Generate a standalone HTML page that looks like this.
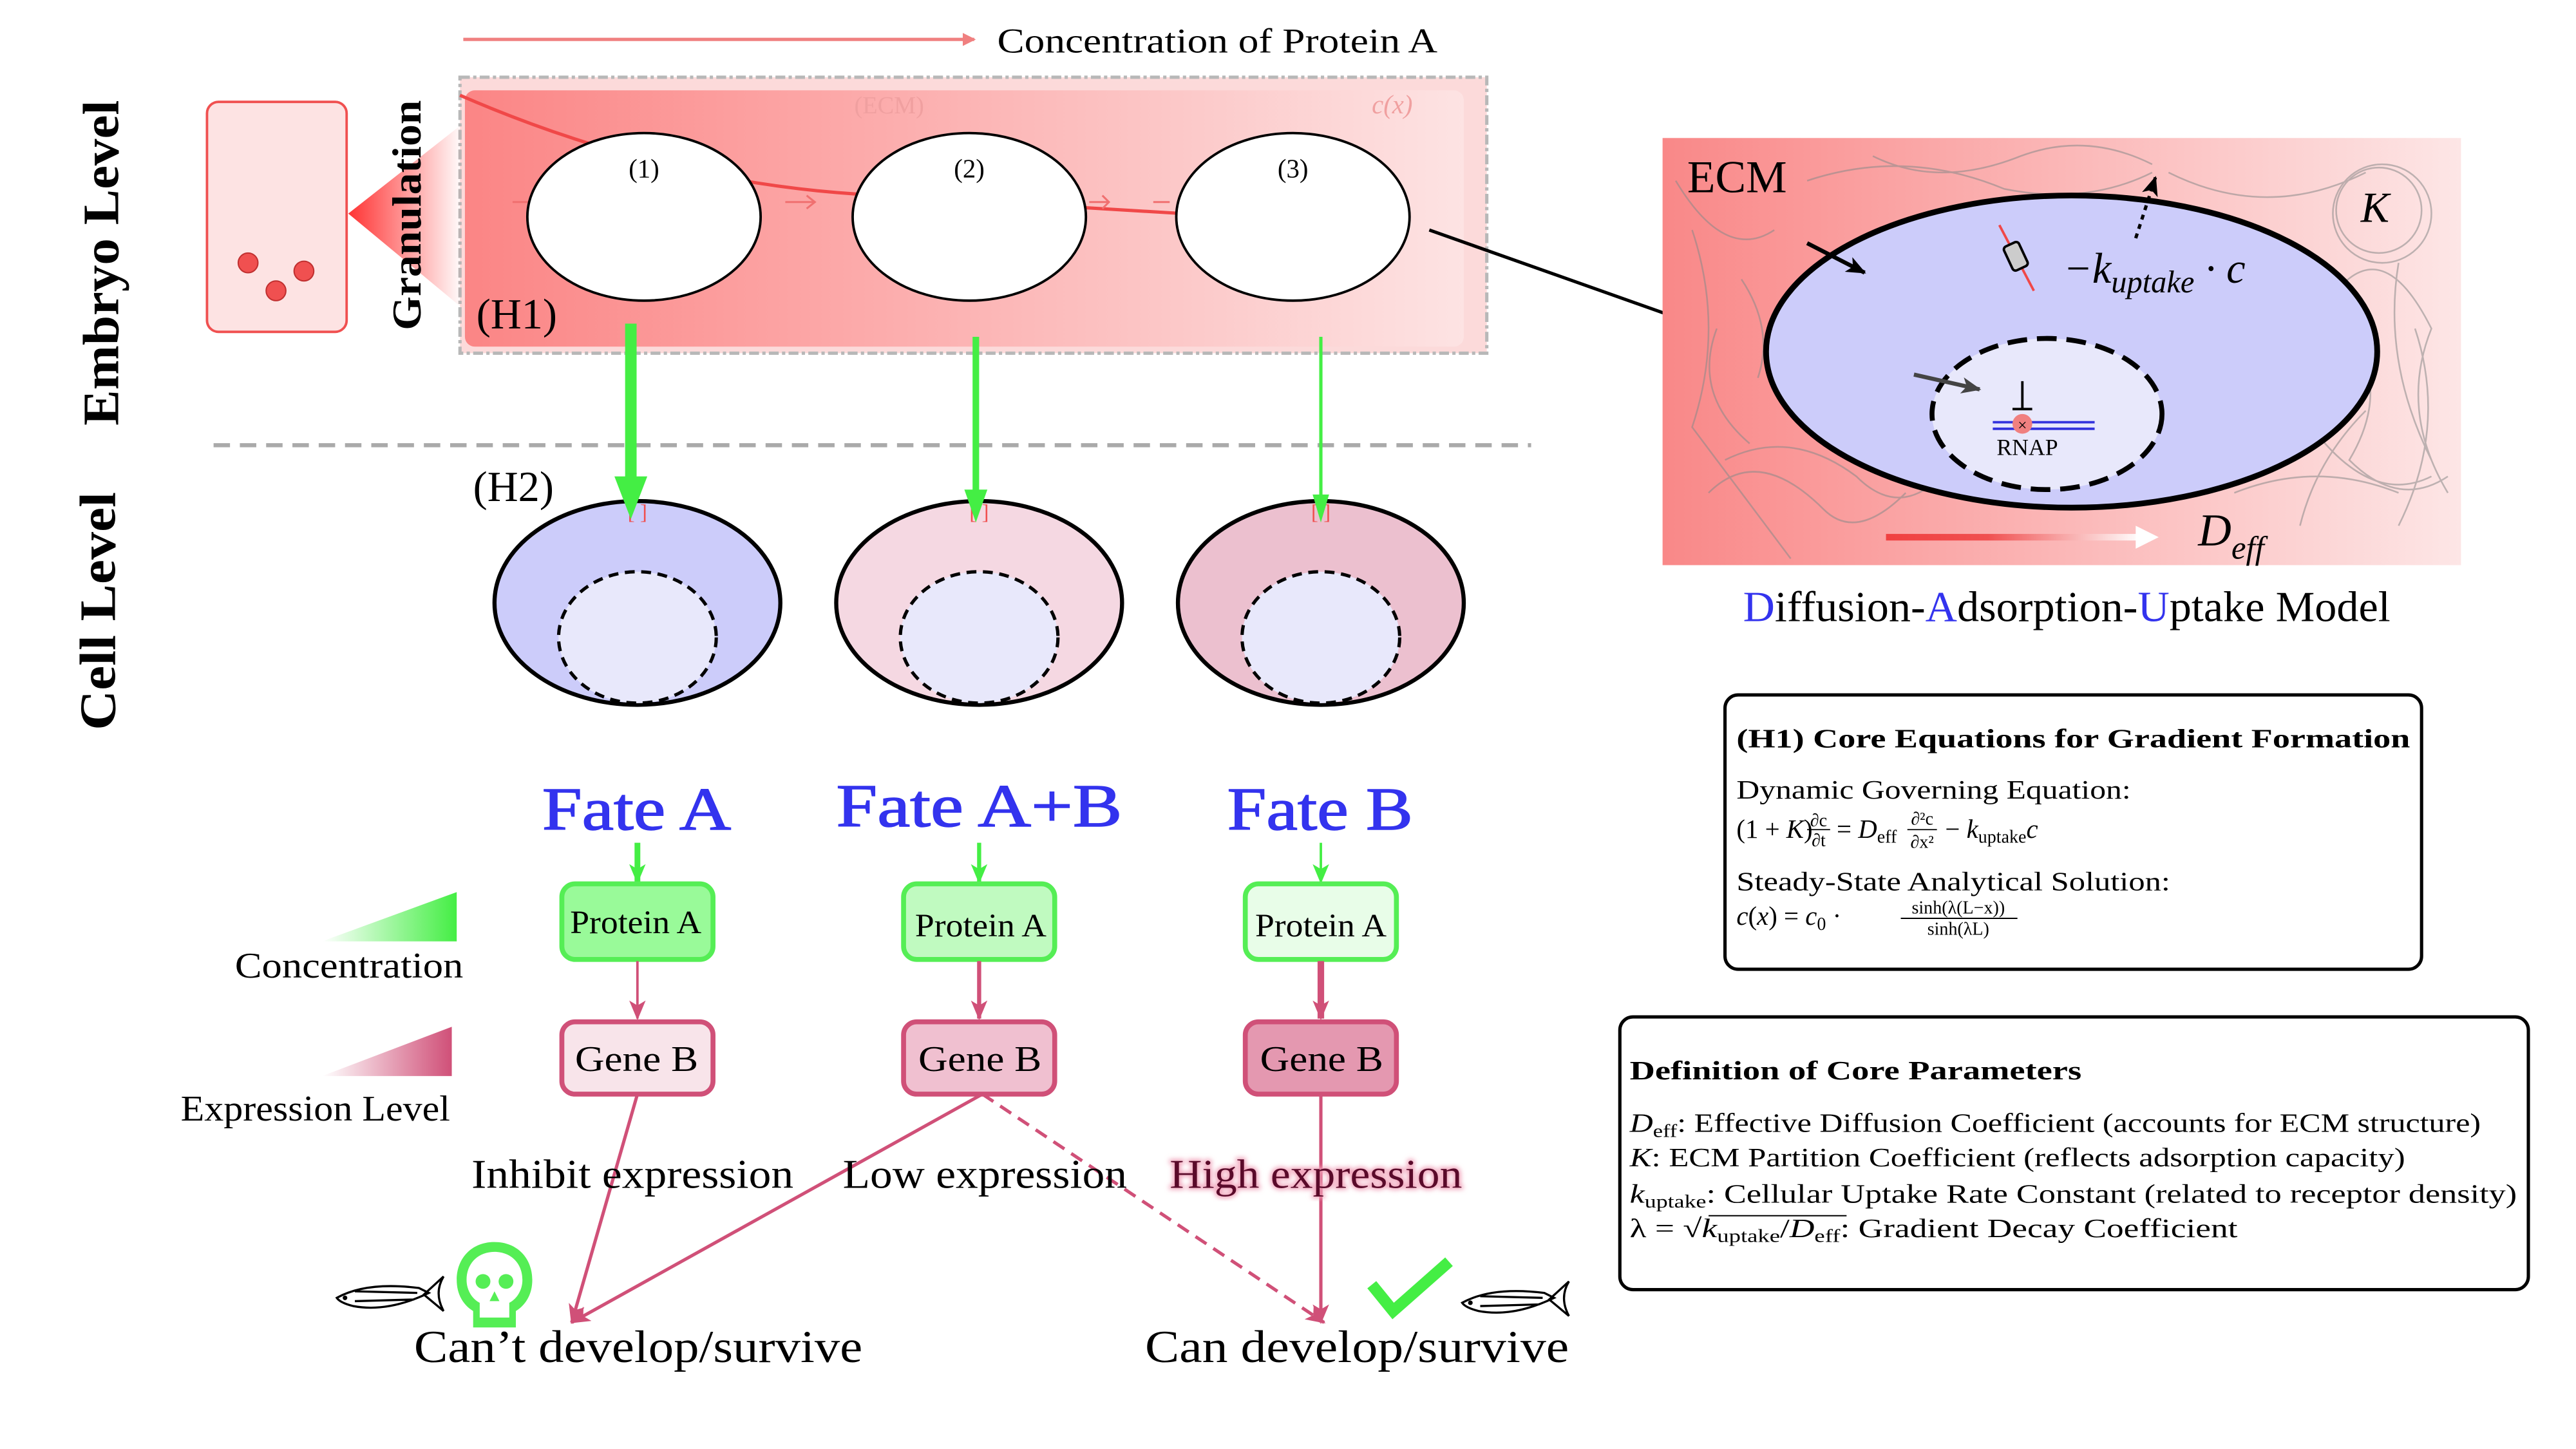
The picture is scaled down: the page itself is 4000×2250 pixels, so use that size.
<!DOCTYPE html>
<html><head><meta charset="utf-8"><style>html,body{margin:0;padding:0;background:#fff;}svg{display:block;}</style></head>
<body>
<svg xmlns="http://www.w3.org/2000/svg" width="4000" height="2250" viewBox="0 0 1568 882" font-family="'Liberation Serif', serif">
<defs>
<linearGradient id="ecm" x1="0" x2="1"><stop offset="0" stop-color="#fb8585"/><stop offset="1" stop-color="#fde3e3"/></linearGradient>
<linearGradient id="ecm2" x1="0" x2="1"><stop offset="0" stop-color="#f98888"/><stop offset="1" stop-color="#fde6e6"/></linearGradient>
<linearGradient id="tri" x1="0" x2="1"><stop offset="0" stop-color="#ff3333"/><stop offset="1" stop-color="#ff3333" stop-opacity="0"/></linearGradient>
<linearGradient id="gtri" x1="0" x2="1"><stop offset="0" stop-color="#fff"/><stop offset="1" stop-color="#44ee44"/></linearGradient>
<linearGradient id="ptri" x1="0" x2="1"><stop offset="0" stop-color="#fff"/><stop offset="1" stop-color="#d05078"/></linearGradient>
<linearGradient id="darr" x1="0" x2="1"><stop offset="0" stop-color="#f04040"/><stop offset="0.4" stop-color="#f05050"/><stop offset="1" stop-color="#ffffff"/></linearGradient>
<marker id="ah" markerWidth="8" markerHeight="8" refX="7" refY="4" orient="auto" markerUnits="userSpaceOnUse"><path d="M0,0 L8,4 L0,8 z" fill="#f08080"/></marker>
<marker id="bk" markerWidth="12" markerHeight="10" refX="11" refY="5" orient="auto" markerUnits="userSpaceOnUse"><path d="M0,0 L12,5 L0,10 L3,5 z" fill="#000"/></marker>
<marker id="dg" markerWidth="12" markerHeight="10" refX="11" refY="5" orient="auto" markerUnits="userSpaceOnUse"><path d="M0,0 L12,5 L0,10 L3,5 z" fill="#444"/></marker>
<marker id="pk" markerWidth="12" markerHeight="10" refX="11" refY="5" orient="auto" markerUnits="userSpaceOnUse"><path d="M0,0 L12,5 L0,10 L3,5 z" fill="#d05078"/></marker>
<marker id="gr" markerWidth="12" markerHeight="10" refX="11" refY="5" orient="auto" markerUnits="userSpaceOnUse"><path d="M0,0 L12,5 L0,10 L3,5 z" fill="#44ee44"/></marker>
<filter id="glow"><feGaussianBlur stdDeviation="1.5"/></filter>
</defs>

<line x1="282" y1="24" x2="593" y2="24" stroke="#f08080" stroke-width="2" marker-end="url(#ah)"/>
<text x="607" y="32" font-size="21" textLength="268" lengthAdjust="spacingAndGlyphs">Concentration of Protein A</text>

<rect x="280" y="47" width="625" height="168" fill="#fcdada" stroke="#b8b8b8" stroke-width="2" stroke-dasharray="6,2,2,2"/>
<rect x="283" y="55" width="608" height="156" rx="6" fill="url(#ecm)"/>
<text x="520" y="69" font-size="15" fill="#f0a0a0">(ECM)</text>
<text x="835" y="69" font-size="16" font-style="italic" fill="#f0a0a0">c(x)</text>
<path d="M280,58 Q400,110 520,118 L720,130" fill="none" stroke="#f04848" stroke-width="2"/>
<g stroke="#f07070" stroke-width="1.2" fill="none"><path d="M478,123 h18 m-5,-4 l5,4 l-5,4"/><path d="M663,123 h12 m-4,-4 l4,4 l-4,4"/><path d="M312,123 h10"/><path d="M702,123 h10"/></g>
<ellipse cx="392" cy="132" rx="71" ry="51" fill="#fff" stroke="#000" stroke-width="1.5"/>
<ellipse cx="590" cy="132" rx="71" ry="51" fill="#fff" stroke="#000" stroke-width="1.5"/>
<ellipse cx="787" cy="132" rx="71" ry="51" fill="#fff" stroke="#000" stroke-width="1.5"/>
<text x="392" y="108" font-size="16" text-anchor="middle">(1)</text>
<text x="590" y="108" font-size="16" text-anchor="middle">(2)</text>
<text x="787" y="108" font-size="16" text-anchor="middle">(3)</text>
<text x="290" y="200" font-size="26">(H1)</text>

<rect x="126" y="62" width="85" height="140" rx="7" fill="#fde3e3" stroke="#f05050" stroke-width="1.5"/>
<circle cx="151" cy="160" r="6" fill="#f05050" stroke="#c03030" stroke-width="0.8"/>
<circle cx="168" cy="177" r="6" fill="#f05050" stroke="#c03030" stroke-width="0.8"/>
<circle cx="185" cy="165" r="6" fill="#f05050" stroke="#c03030" stroke-width="0.8"/>
<polygon points="212,130 282,75 282,188" fill="url(#tri)"/>
<text transform="translate(256,131) rotate(-90)" font-size="25" font-weight="bold" text-anchor="middle" textLength="140" lengthAdjust="spacingAndGlyphs">Granulation</text>
<text transform="translate(72,160) rotate(-90)" font-size="31" font-weight="bold" text-anchor="middle" textLength="198" lengthAdjust="spacingAndGlyphs">Embryo Level</text>
<text transform="translate(70,372) rotate(-90)" font-size="31" font-weight="bold" text-anchor="middle" textLength="145" lengthAdjust="spacingAndGlyphs">Cell Level</text>

<line x1="130" y1="271" x2="932" y2="271" stroke="#aaa" stroke-width="2.5" stroke-dasharray="10,6"/>

<text x="288" y="305" font-size="26">(H2)</text>
<ellipse cx="388" cy="367" rx="87" ry="62" fill="#ccccfa" stroke="#000" stroke-width="2.5"/>
<ellipse cx="596" cy="367" rx="87" ry="62" fill="#f5d8e2" stroke="#000" stroke-width="2.5"/>
<ellipse cx="804" cy="367" rx="87" ry="62" fill="#ecc0cf" stroke="#000" stroke-width="2.5"/>
<ellipse cx="388" cy="388" rx="48" ry="40" fill="#e8e8fb" stroke="#000" stroke-width="2" stroke-dasharray="6,4"/>
<ellipse cx="596" cy="388" rx="48" ry="40" fill="#e8e8fb" stroke="#000" stroke-width="2" stroke-dasharray="6,4"/>
<ellipse cx="804" cy="388" rx="48" ry="40" fill="#e8e8fb" stroke="#000" stroke-width="2" stroke-dasharray="6,4"/>
<g font-size="13" fill="#f05050" text-anchor="middle"><text x="388" y="316">[ ]</text><text x="596" y="316">[ ]</text><text x="804" y="316">[ ]</text></g>
<line x1="384" y1="197" x2="384" y2="292" stroke="#44ee44" stroke-width="7"/><polygon points="374,290 394,290 384,316" fill="#44ee44"/>
<line x1="594" y1="205" x2="594" y2="300" stroke="#44ee44" stroke-width="4"/><polygon points="587,298 601,298 594,318" fill="#44ee44"/>
<line x1="804" y1="205" x2="804" y2="303" stroke="#44ee44" stroke-width="2"/><polygon points="799,301 809,301 804,318" fill="#44ee44"/>

<g font-size="37" fill="#3333ee" stroke="#3333ee" stroke-width="0.6">
<text x="330" y="505" textLength="115" lengthAdjust="spacingAndGlyphs">Fate A</text><text x="509" y="503" textLength="174" lengthAdjust="spacingAndGlyphs">Fate A+B</text><text x="747" y="505" textLength="113" lengthAdjust="spacingAndGlyphs">Fate B</text></g>
<line x1="388" y1="513" x2="388" y2="537" stroke="#44ee44" stroke-width="3.5" marker-end="url(#gr)"/>
<line x1="596" y1="513" x2="596" y2="537" stroke="#44ee44" stroke-width="2.5" marker-end="url(#gr)"/>
<line x1="804" y1="513" x2="804" y2="537" stroke="#44ee44" stroke-width="1.5" marker-end="url(#gr)"/>
<rect x="342" y="538" width="92" height="46" rx="8" fill="#99fa99" stroke="#55ee55" stroke-width="3"/>
<rect x="550" y="538" width="92" height="46" rx="8" fill="#c0fac0" stroke="#55ee55" stroke-width="3"/>
<rect x="758" y="538" width="92" height="46" rx="8" fill="#e8fde8" stroke="#55ee55" stroke-width="3"/>
<g font-size="20"><text x="347" y="568" textLength="80" lengthAdjust="spacingAndGlyphs">Protein A</text><text x="557" y="570" textLength="80" lengthAdjust="spacingAndGlyphs">Protein A</text><text x="764" y="570" textLength="80" lengthAdjust="spacingAndGlyphs">Protein A</text></g>
<line x1="388" y1="585" x2="388" y2="620" stroke="#d05078" stroke-width="1.5" marker-end="url(#pk)"/>
<line x1="596" y1="585" x2="596" y2="620" stroke="#d05078" stroke-width="2.5" marker-end="url(#pk)"/>
<line x1="804" y1="585" x2="804" y2="620" stroke="#d05078" stroke-width="4" marker-end="url(#pk)"/>
<rect x="342" y="622" width="92" height="44" rx="8" fill="#f8e4ea" stroke="#d05078" stroke-width="3"/>
<rect x="550" y="622" width="92" height="44" rx="8" fill="#f0c0d0" stroke="#d05078" stroke-width="3"/>
<rect x="758" y="622" width="92" height="44" rx="8" fill="#e498b0" stroke="#d05078" stroke-width="3"/>
<g font-size="22"><text x="350" y="652" textLength="75" lengthAdjust="spacingAndGlyphs">Gene B</text><text x="559" y="652" textLength="75" lengthAdjust="spacingAndGlyphs">Gene B</text><text x="767" y="652" textLength="75" lengthAdjust="spacingAndGlyphs">Gene B</text></g>

<line x1="388" y1="666" x2="348" y2="805" stroke="#d05078" stroke-width="2" marker-end="url(#pk)"/>
<line x1="598" y1="666" x2="348" y2="805" stroke="#d05078" stroke-width="2" marker-end="url(#pk)"/>
<line x1="598" y1="666" x2="806" y2="805" stroke="#d05078" stroke-width="2" stroke-dasharray="8,5" marker-end="url(#pk)"/>
<line x1="804" y1="666" x2="804" y2="805" stroke="#d05078" stroke-width="2" marker-end="url(#pk)"/>

<g font-size="25">
<text x="287" y="723" textLength="196" lengthAdjust="spacingAndGlyphs">Inhibit expression</text>
<text x="513" y="723" textLength="173" lengthAdjust="spacingAndGlyphs">Low expression</text>
<text x="712" y="723" textLength="178" lengthAdjust="spacingAndGlyphs" fill="#f0a0b8" filter="url(#glow)" stroke="#f0a0b8" stroke-width="2">High expression</text>
<text x="712" y="723" textLength="178" lengthAdjust="spacingAndGlyphs" fill="#5a0a2a">High expression</text>
</g>
<g font-size="28"><text x="252" y="829" textLength="273" lengthAdjust="spacingAndGlyphs">Can’t develop/survive</text><text x="697" y="829" textLength="258" lengthAdjust="spacingAndGlyphs">Can develop/survive</text></g>

<g fill="#55ee55"><path d="M301,756 c-14,0 -23,10 -23,23 c0,10 5,16 10,19 v10 h26 v-10 c5,-3 10,-9 10,-19 c0,-13 -9,-23 -23,-23 z M301,762 c10,0 17,7 17,17 c0,7 -4,12 -8,14 v9 h-18 v-9 c-4,-2 -8,-7 -8,-14 c0,-10 7,-17 17,-17 z"/>
<circle cx="294" cy="780" r="4.5"/><circle cx="308" cy="780" r="4.5"/><polygon points="301,786 298,792 304,792"/></g>
<path d="M835,782 L848,798 L882,768" fill="none" stroke="#44ee44" stroke-width="7"/>
<g fill="none" stroke="#000" stroke-width="1.3">
<path d="M205,790 q18,-10 50,-6 l6,3 q-25,12 -46,8 q-8,-2 -10,-5 z M216,786 l38,1 M216,792 l36,-1 M258,788 l12,-11 q-6,10 0,21 z"/>
<path d="M890,793 q18,-10 50,-6 l6,3 q-25,12 -46,8 q-8,-2 -10,-5 z M901,789 l38,1 M901,795 l36,-1 M943,791 l12,-11 q-6,10 0,21 z"/>
</g>
<circle cx="210" cy="790" r="1.4"/><circle cx="895" cy="793" r="1.4"/>

<polygon points="196,573 278,543 278,573" fill="url(#gtri)"/>
<text x="143" y="595" font-size="22" textLength="139" lengthAdjust="spacingAndGlyphs">Concentration</text>
<polygon points="196,655 275,625 275,655" fill="url(#ptri)"/>
<text x="110" y="682" font-size="22" textLength="164" lengthAdjust="spacingAndGlyphs">Expression Level</text>

<line x1="870" y1="140" x2="1062" y2="208" stroke="#000" stroke-width="2" marker-end="url(#bk)"/>
<rect x="1012" y="84" width="486" height="260" fill="url(#ecm2)"/>
<g fill="none" stroke="#8a8a8a" stroke-width="1" opacity="0.55">
<path d="M1030,140 q20,60 0,120 q30,40 60,80 M1050,280 q40,-20 80,10 q30,30 60,-10 M1100,110 q60,-20 120,5 q50,10 90,-10 M1320,105 q60,30 120,0"/>
<circle cx="1450" cy="130" r="30"/><circle cx="1448" cy="128" r="26"/>
<path d="M1420,190 q40,40 10,90 q30,30 60,10 M1440,250 q-30,30 -40,70 M1470,200 q20,60 -10,120 M1060,170 q20,30 10,60 M1360,300 q50,-20 100,0"/>
<path d="M1040,300 q30,-30 70,10 q20,20 50,-10 M1020,110 q30,50 60,30 M1140,95 q40,20 90,0 q40,-15 80,5 M1420,180 q30,-40 60,20 q-20,50 10,100 M1400,250 q40,60 80,40 M1045,200 q-15,40 20,70 M1460,160 q-10,60 20,120"/>
</g>
<text x="1027" y="117" font-size="28">ECM</text>
<ellipse cx="1261" cy="214" rx="186" ry="95" fill="#ccccfa" stroke="#000" stroke-width="3.5"/>
<ellipse cx="1246" cy="252" rx="70" ry="46" fill="#e8e8fb" stroke="#000" stroke-width="3" stroke-dasharray="12,6"/>
<line x1="1100" y1="148" x2="1135" y2="166" stroke="#000" stroke-width="2.5" marker-end="url(#bk)"/>
<line x1="1165" y1="228" x2="1205" y2="237" stroke="#444" stroke-width="2.5" marker-end="url(#dg)"/>
<line x1="1300" y1="145" x2="1312" y2="108" stroke="#000" stroke-width="2" stroke-dasharray="3,3" marker-end="url(#bk)"/>
<line x1="1217" y1="137" x2="1238" y2="177" stroke="#f04848" stroke-width="1.5"/>
<rect x="1222" y="148" width="10" height="16" rx="2" transform="rotate(-25 1227 156)" fill="#ccc" stroke="#000" stroke-width="1.5"/>
<text x="1256" y="172" font-size="26" font-style="italic">−k<tspan font-size="19" dy="6">uptake</tspan><tspan dy="-6"> · c</tspan></text>
<text x="1437" y="135" font-size="26" font-style="italic">K</text>
<line x1="1213" y1="257" x2="1275" y2="257" stroke="#3333dd" stroke-width="1.5"/>
<line x1="1213" y1="261" x2="1275" y2="261" stroke="#3333dd" stroke-width="1.5"/>
<circle cx="1231" cy="258" r="6" fill="#f08080"/>
<text x="1231" y="262" font-size="10" text-anchor="middle">×</text>
<path d="M1231,232 v17 M1225,249 h12" stroke="#000" stroke-width="1.5"/>
<text x="1234" y="277" font-size="14" text-anchor="middle">RNAP</text>
<rect x="1148" y="325" width="155" height="4" fill="url(#darr)"/>
<polygon points="1300,320 1314,327 1300,334" fill="#fff"/>
<text x="1338" y="332" font-size="28" font-style="italic">D<tspan font-size="20" dy="8">eff</tspan></text>
<text x="1258" y="378" font-size="26" text-anchor="middle" textLength="394" lengthAdjust="spacingAndGlyphs"><tspan fill="#3333ee">D</tspan>iffusion-<tspan fill="#3333ee">A</tspan>dsorption-<tspan fill="#3333ee">U</tspan>ptake Model</text>

<rect x="1050" y="423" width="424" height="167" rx="8" fill="#fff" stroke="#000" stroke-width="2"/>
<text x="1057" y="455" font-size="16" font-weight="bold" textLength="410" lengthAdjust="spacingAndGlyphs">(H1) Core Equations for Gradient Formation</text>
<text x="1057" y="486" font-size="16" textLength="240" lengthAdjust="spacingAndGlyphs">Dynamic Governing Equation:</text>
<text x="1057" y="510" font-size="16">(1 + <tspan font-style="italic">K</tspan>)</text>
<text x="1107" y="503" font-size="11" text-anchor="middle">∂c</text><line x1="1100" y1="505" x2="1114" y2="505" stroke="#000" stroke-width="0.7"/><text x="1107" y="515" font-size="11" text-anchor="middle">∂t</text>
<text x="1118" y="510" font-size="16">= <tspan font-style="italic">D</tspan><tspan font-size="11" dy="3">eff</tspan></text>
<text x="1170" y="502" font-size="11" text-anchor="middle">∂²c</text><line x1="1161" y1="505" x2="1179" y2="505" stroke="#000" stroke-width="0.7"/><text x="1170" y="516" font-size="11" text-anchor="middle">∂x²</text>
<text x="1184" y="510" font-size="16">− <tspan font-style="italic">k</tspan><tspan font-size="11" dy="3">uptake</tspan><tspan font-style="italic" dy="-3">c</tspan></text>
<text x="1057" y="542" font-size="16" textLength="264" lengthAdjust="spacingAndGlyphs">Steady-State Analytical Solution:</text>
<text x="1057" y="563" font-size="16"><tspan font-style="italic">c</tspan>(<tspan font-style="italic">x</tspan>) = <tspan font-style="italic">c</tspan><tspan font-size="11" dy="3">0</tspan><tspan dy="-3"> · </tspan></text>
<text x="1192" y="556" font-size="11" text-anchor="middle">sinh(λ(L−x))</text>
<line x1="1157" y1="559" x2="1228" y2="559" stroke="#000" stroke-width="0.8"/>
<text x="1192" y="569" font-size="11" text-anchor="middle">sinh(λL)</text>

<rect x="986" y="619" width="553" height="166" rx="8" fill="#fff" stroke="#000" stroke-width="2"/>
<text x="992" y="657" font-size="16" font-weight="bold" textLength="275" lengthAdjust="spacingAndGlyphs">Definition of Core Parameters</text>
<g font-size="16">
<text x="992" y="689" textLength="518" lengthAdjust="spacingAndGlyphs"><tspan font-style="italic">D</tspan><tspan font-size="11" dy="3">eff</tspan><tspan dy="-3">: Effective Diffusion Coefficient (accounts for ECM structure)</tspan></text>
<text x="992" y="710" textLength="472" lengthAdjust="spacingAndGlyphs"><tspan font-style="italic">K</tspan>: ECM Partition Coefficient (reflects adsorption capacity)</text>
<text x="992" y="732" textLength="540" lengthAdjust="spacingAndGlyphs"><tspan font-style="italic">k</tspan><tspan font-size="11" dy="3">uptake</tspan><tspan dy="-3">: Cellular Uptake Rate Constant (related to receptor density)</tspan></text>
<text x="992" y="753" textLength="370" lengthAdjust="spacingAndGlyphs">λ = √<tspan font-style="italic">k</tspan><tspan font-size="11" dy="3">uptake</tspan><tspan dy="-3">/</tspan><tspan font-style="italic">D</tspan><tspan font-size="11" dy="3">eff</tspan><tspan dy="-3">: Gradient Decay Coefficient</tspan></text>
</g>
<line x1="1040" y1="740" x2="1124" y2="740" stroke="#000" stroke-width="0.8"/>
</svg>
</body></html>
